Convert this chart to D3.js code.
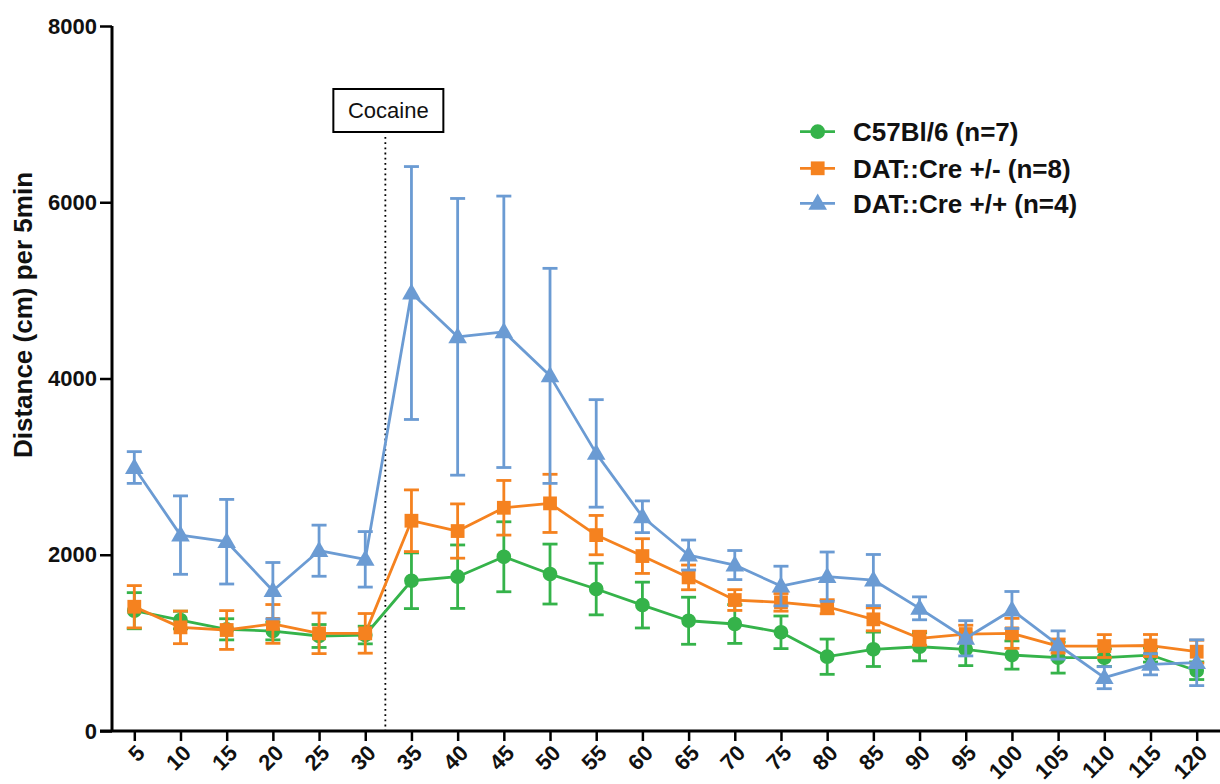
<!DOCTYPE html>
<html>
<head>
<meta charset="utf-8">
<script src="https://cdn.jsdelivr.net/npm/d3@7"></script>
<style>
  html, body { margin: 0; padding: 0; background: #fff; }
  svg { display: block; font-family: "Liberation Sans", Arial, sans-serif; }
</style>
</head>
<body>
<svg id="chart" width="1220" height="784"></svg>
<script>
const times = ["5","10","15","20","25","30","35","40","45","50","55","60","65","70","75","80","85","90","95","100","105","110","115","120"];
const yTicks = [0, 2000, 4000, 6000, 8000];

const c57Mean = [1365, 1259, 1154, 1134, 1078, 1089, 1705, 1751, 1977, 1781, 1611, 1429, 1251, 1214, 1120, 843, 927, 956, 927, 862, 832, 832, 862, 684];
const c57Sem  = [205, 100, 120, 100, 130, 100, 316, 360, 397, 340, 293, 260, 267, 220, 185, 200, 195, 160, 185, 160, 175, 100, 80, 100];

const hetMean = [1410, 1176, 1146, 1215, 1108, 1108, 2386, 2269, 2533, 2583, 2223, 1985, 1743, 1486, 1460, 1410, 1267, 1052, 1100, 1108, 964, 964, 970, 900];
const hetSem  = [240, 185, 220, 220, 230, 225, 350, 308, 310, 330, 223, 197, 140, 118, 100, 80, 130, 80, 100, 170, 80, 130, 125, 130];

const homMean = [2990, 2223, 2148, 1592, 2046, 1948, 4970, 4473, 4530, 4030, 3150, 2431, 1997, 1883, 1645, 1751, 1713, 1392, 1052, 1373, 976, 605, 757, 775];
const homSem  = [180, 445, 480, 320, 290, 315, 1435, 1570, 1540, 1220, 610, 180, 170, 165, 225, 280, 290, 130, 200, 210, 160, 125, 120, 260];

const seriesNames = ["C57Bl/6 (n=7)", "DAT::Cre +/- (n=8)", "DAT::Cre +/+ (n=4)"];
const seriesColors = ["#35b34a", "#f5821f", "#6b9bd3"];
const seriesShapes = ["circle", "square", "triangle"];
const cocaineLabel = "Cocaine";
const cocaineAfter = "30";
const yTitle = "Distance (cm) per 5min";

const series = [
  { name: seriesNames[0], mean: c57Mean, sem: c57Sem, color: seriesColors[0], shape: seriesShapes[0] },
  { name: seriesNames[1], mean: hetMean, sem: hetSem, color: seriesColors[1], shape: seriesShapes[1] },
  { name: seriesNames[2], mean: homMean, sem: homSem, color: seriesColors[2], shape: seriesShapes[2] }
];

const svg = d3.select("#chart");
const x = d3.scalePoint().domain(times).range([134.3, 1196.7]);
const y = d3.scaleLinear().domain([0, 8000]).range([731, 26]);
const axisLeftX = 112;

const symbolFor = {
  circle: d3.symbol().type(d3.symbolCircle).size(170),
  square: d3.symbol().type(d3.symbolSquare).size(190),
  triangle: d3.symbol().type(d3.symbolTriangle).size(150)
};

// Y axis
const yAxis = svg.append("g")
  .attr("transform", `translate(${axisLeftX},0)`)
  .call(d3.axisLeft(y).tickValues(yTicks).tickSize(12).tickPadding(3).tickFormat(d3.format("d")));
yAxis.select(".domain").attr("stroke", "#000").attr("stroke-width", 3).attr("d", `M0,${y(8000)}V${y(0)}`);
yAxis.selectAll(".tick line").attr("stroke", "#000").attr("stroke-width", 2.5);
yAxis.selectAll(".tick text")
  .attr("fill", "#111").attr("font-size", 22).attr("font-weight", "bold")
  .attr("font-family", "Liberation Sans, Arial, sans-serif");

// X axis
const xAxis = svg.append("g")
  .attr("transform", `translate(0,${y(0)})`)
  .call(d3.axisBottom(x).tickSize(10).tickPadding(0));
xAxis.select(".domain").attr("stroke", "#000").attr("stroke-width", 3).attr("d", `M100,0H1220`);
xAxis.selectAll(".tick line").attr("stroke", "#000").attr("stroke-width", 2.5);
xAxis.selectAll(".tick text")
  .attr("fill", "#111").attr("font-size", 22).attr("font-weight", "bold")
  .attr("font-family", "Liberation Sans, Arial, sans-serif")
  .attr("text-anchor", "end")
  .attr("dy", "0.35em")
  .attr("transform", "translate(6,18) rotate(-45)")
  .attr("y", 0).attr("x", 0);

// Y title
svg.append("text")
  .attr("transform", `translate(32,${(173 + 457) / 2}) rotate(-90)`)
  .attr("text-anchor", "middle")
  .attr("font-size", 26).attr("font-weight", "bold").attr("fill", "#111")
  .text(yTitle);

// Cocaine marker line
const cocX = (x(cocaineAfter) + x(times[times.indexOf(cocaineAfter) + 1])) / 2 - 3;
svg.append("line")
  .attr("x1", cocX).attr("x2", cocX)
  .attr("y1", 137).attr("y2", y(0))
  .attr("stroke", "#000").attr("stroke-width", 1.8)
  .attr("stroke-dasharray", "1.8,3.4");
svg.append("rect")
  .attr("x", cocX - 52).attr("y", 89).attr("width", 110).attr("height", 43)
  .attr("fill", "#fff").attr("stroke", "#000").attr("stroke-width", 2);
svg.append("text")
  .attr("x", cocX + 3).attr("y", 110).attr("dy", "0.35em")
  .attr("text-anchor", "middle").attr("font-size", 22).attr("fill", "#111")
  .text(cocaineLabel);

// Series
const line = d3.line().x((d, i) => x(times[i])).y(d => y(d));
series.forEach(s => {
  const g = svg.append("g");
  const eb = g.append("g").attr("stroke", s.color).attr("stroke-width", 2.8).attr("fill", "none");
  s.mean.forEach((m, i) => {
    const cx = x(times[i]);
    const top = y(m + s.sem[i]), bot = y(m - s.sem[i]);
    eb.append("line").attr("x1", cx).attr("x2", cx).attr("y1", top).attr("y2", bot);
    eb.append("line").attr("x1", cx - 7.5).attr("x2", cx + 7.5).attr("y1", top).attr("y2", top);
    eb.append("line").attr("x1", cx - 7.5).attr("x2", cx + 7.5).attr("y1", bot).attr("y2", bot);
  });
  g.append("path").datum(s.mean)
    .attr("d", line).attr("fill", "none")
    .attr("stroke", s.color).attr("stroke-width", 2.8).attr("stroke-linejoin", "round");
  g.selectAll("path.mk").data(s.mean).join("path").attr("class", "mk")
    .attr("d", symbolFor[s.shape])
    .attr("transform", (d, i) => `translate(${x(times[i])},${y(d) + (s.shape === "triangle" ? 1 : 0)})`)
    .attr("fill", s.color);
});

// Legend
const legY = [131.7, 168.3, 203.3];
series.forEach((s, i) => {
  const lg = svg.append("g").attr("transform", `translate(0,${legY[i]})`);
  lg.append("line").attr("x1", 800).attr("x2", 835).attr("y1", 0).attr("y2", 0)
    .attr("stroke", s.color).attr("stroke-width", 2.8);
  lg.append("path").attr("d", symbolFor[s.shape])
    .attr("transform", `translate(817.7,${s.shape === "triangle" ? 1 : 0})`).attr("fill", s.color);
  lg.append("text").attr("x", 853).attr("y", 0).attr("dy", "0.36em")
    .attr("font-size", 26).attr("font-weight", "bold").attr("fill", "#111")
    .text(s.name);
});
</script>
</body>
</html>
